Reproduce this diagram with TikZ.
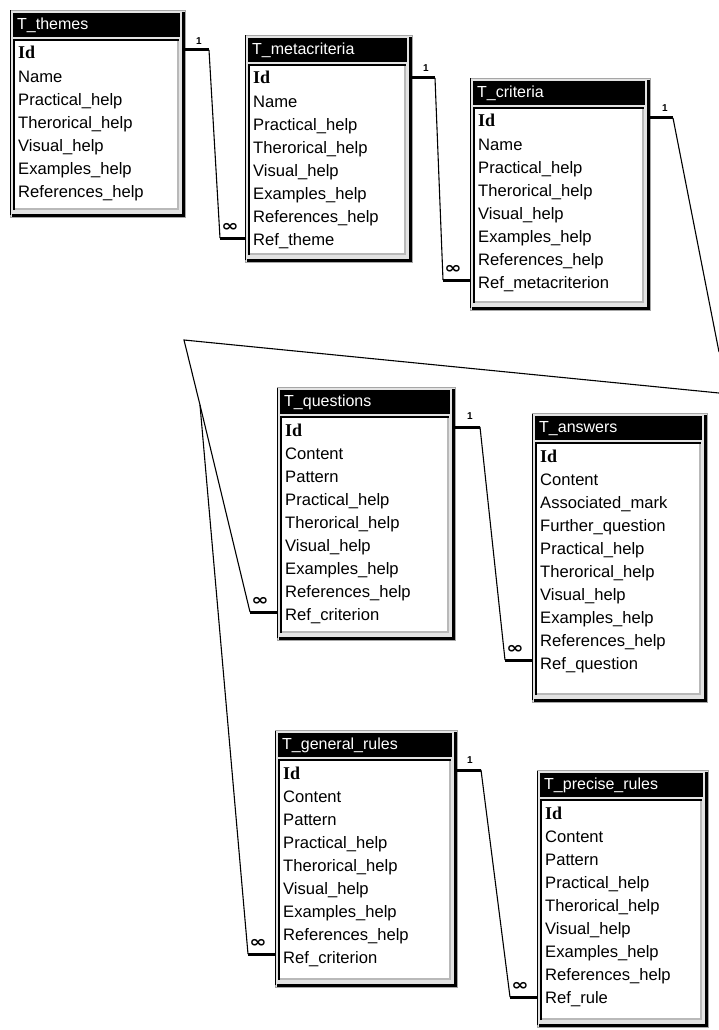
\documentclass[tikz,border=0pt]{standalone}
\usepackage{fontspec}
\setmainfont{Liberation Sans}
\newfontfamily\idfont{Liberation Serif}
\newfontfamily\symfont{DejaVu Sans}
\newcommand\idb{\idfont\bfseries\fontsize{18}{18}\selectfont}
\newcommand\dbtab[7]{%
  \pgfmathsetmacro\tabX{(#2+#4)/2}%
  \pgfmathsetmacro\tabY{(#3+#5)/2}%
  \pgfmathsetmacro\tabW{#4-#2}%
  \pgfmathsetmacro\tabH{#5-#3}%
  \node[tabframe, minimum width=\tabW pt, minimum height=\tabH pt] (#1) at (\tabX,\tabY) {};
  \draw[black, line width=1pt] (#2+0.5,#5-2) -- (#2+0.5,#3+0.5);
  \draw[line width=3pt] (#4-1.5,#3+2) -- (#4-1.5,#5-1.5) -- (#2+2,#5-1.5);
  \fill[black] (#2+3,#3+3) rectangle (#4-5,#3+27);
  \fill[white] (#2+4,#3+30) rectangle (#4-6,#5-7);
  \draw[gray!55, line width=2.5pt] (#2+4,#5-8) -- (#4-7,#5-8) -- (#4-7,#3+30);
  \draw[black, line width=1.2pt] (#2+4,#5-7) -- (#2+4,#3+30) -- (#4-6,#3+30);
  \node[ttl] (#1-t) at (#2+7,#3+15.5) {#6};
  \foreach \f [count=\i] in {#7} {\node[fld] (#1-\i) at (#2+8,#3+45+\i*23.1-23.1) {\f};}
}
\begin{document}
\begin{tikzpicture}[x=1pt,y=-1pt,
  fld/.style={anchor=west, inner sep=0pt, text height=11pt, text depth=3pt, font=\fontsize{16.6}{16.6}\selectfont},
  ttl/.style={anchor=west, inner sep=0pt, text=white, font=\fontsize{16}{16}\selectfont},
  tabframe/.style={draw=gray!70, line width=0.8pt, fill=gray!22, inner sep=0pt},
  one/.style={font=\bfseries\fontsize{10}{10}\selectfont, inner sep=0pt},
  many/.style={font=\symfont\bfseries\fontsize{16}{16}\selectfont, inner sep=0pt},
  rel/.style={line width=1.1pt},
  relend/.style={line width=3pt},
]
\useasboundingbox (0,0) rectangle (718,1030);
\fill[white] (0,0) rectangle (718,1030);

\dbtab{themes}{10}{10}{185}{217}{T\_themes}{\idb Id,Name,Practical\_help,Therorical\_help,Visual\_help,Examples\_help,References\_help}
\dbtab{meta}{245}{35}{412}{262}{T\_metacriteria}{\idb Id,Name,Practical\_help,Therorical\_help,Visual\_help,Examples\_help,References\_help,Ref\_theme}
\dbtab{crit}{470}{78}{650}{310}{T\_criteria}{\idb Id,Name,Practical\_help,Therorical\_help,Visual\_help,Examples\_help,References\_help,Ref\_metacriterion}
\dbtab{quest}{277}{387}{455}{640}{T\_questions}{\idb Id,Content,Pattern,Practical\_help,Therorical\_help,Visual\_help,Examples\_help,References\_help,Ref\_criterion}
\dbtab{answ}{532}{413}{707}{702}{T\_answers}{\idb Id,Content,Associated\_mark,Further\_question,Practical\_help,Therorical\_help,Visual\_help,Examples\_help,References\_help,Ref\_question}
\dbtab{gen}{275}{730}{457}{987}{T\_general\_rules}{\idb Id,Content,Pattern,Practical\_help,Therorical\_help,Visual\_help,Examples\_help,References\_help,Ref\_criterion}
\dbtab{prec}{537}{770}{708}{1027}{T\_precise\_rules}{\idb Id,Content,Pattern,Practical\_help,Therorical\_help,Visual\_help,Examples\_help,References\_help,Ref\_rule}

% themes -> metacriteria
\coordinate (r1b) at (209,50);
\coordinate (r1c) at (220,238);
\draw[relend] (themes.east |- r1b) -- (r1b);
\draw[rel] (r1b) -- (r1c);
\draw[relend] (r1c) -- (r1c -| meta.west);
\node[one] (r1o) at (199,41) {1};
\node[many] (r1m) at (230,227) {\scalebox{1.3}[1]{∞}};

% metacriteria -> criteria
\coordinate (r2b) at (435,78);
\coordinate (r2c) at (443,280);
\draw[relend] (meta.east |- r2b) -- (r2b);
\draw[rel] (r2b) -- (r2c);
\draw[relend] (r2c) -- (r2c -| crit.west);
\node[one] (r2o) at (426,68) {1};
\node[many] (r2m) at (453,269) {\scalebox{1.3}[1]{∞}};

% criteria -> questions / general rules
\coordinate (r3b) at (673,118);
\coordinate (r3x) at (719,352);
\coordinate (r3y) at (719,393);
\coordinate (r3k) at (184,340);
\coordinate (r3j) at (200,405);
\coordinate (r3q) at (250,612);
\coordinate (r3g) at (248,954);
\draw[relend] (crit.east |- r3b) -- (r3b);
\draw[rel] (r3b) -- (r3x);
\draw[rel] (r3y) -- (r3k) -- (r3j) -- (r3q);
\draw[rel] (r3j) -- (r3g);
\draw[relend] (r3q) -- (r3q -| quest.west);
\draw[relend] (r3g) -- (r3g -| gen.west);
\node[one] (r3o) at (665,108) {1};
\node[many] (r3m) at (260,601) {\scalebox{1.3}[1]{∞}};
\node[many] (r3n) at (258,943) {\scalebox{1.3}[1]{∞}};

% questions -> answers
\coordinate (r4b) at (480,427);
\coordinate (r4c) at (505,660);
\draw[relend] (quest.east |- r4b) -- (r4b);
\draw[rel] (r4b) -- (r4c);
\draw[relend] (r4c) -- (r4c -| answ.west);
\node[one] (r4o) at (470,416) {1};
\node[many] (r4m) at (515,649) {\scalebox{1.3}[1]{∞}};

% general rules -> precise rules
\coordinate (r5b) at (481,770);
\coordinate (r5c) at (510,997);
\draw[relend] (gen.east |- r5b) -- (r5b);
\draw[rel] (r5b) -- (r5c);
\draw[relend] (r5c) -- (r5c -| prec.west);
\node[one] (r5o) at (470,760) {1};
\node[many] (r5m) at (520,986) {\scalebox{1.3}[1]{∞}};
\end{tikzpicture}
\end{document}
